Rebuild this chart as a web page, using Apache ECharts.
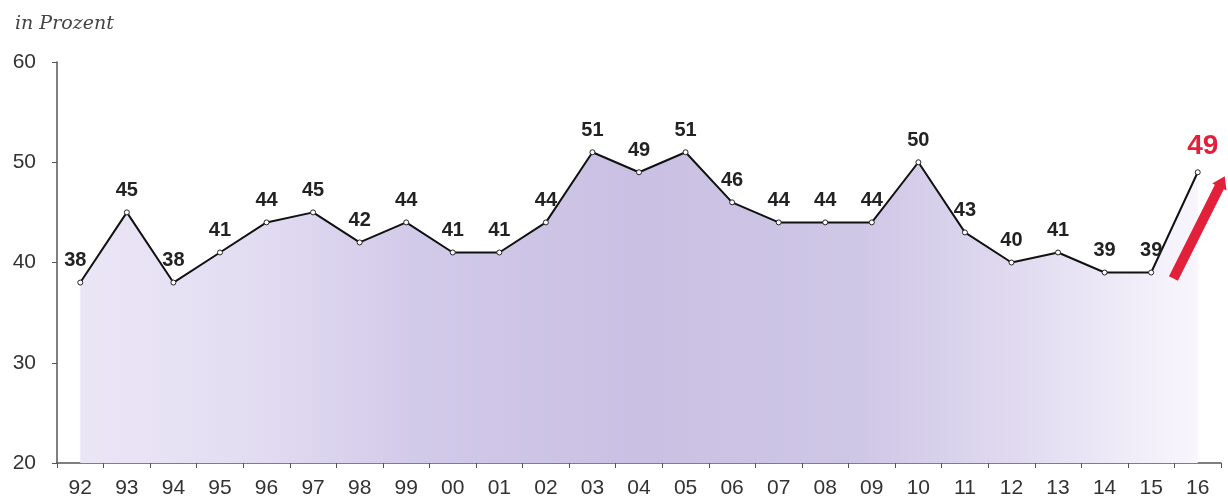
<!DOCTYPE html>
<html><head><meta charset="utf-8">
<script src="https://cdn.jsdelivr.net/npm/echarts@6/dist/echarts.min.js"></script>
<style>html,body{margin:0;padding:0;background:#fff}#c{width:1228px;height:504px}</style>
</head><body><div id="c"></div>
<script>
const years = ['92','93','94','95','96','97','98','99','00','01','02','03','04','05','06','07','08','09','10','11','12','13','14','15','16'];
const values = [38,45,38,41,44,45,42,44,41,41,44,51,49,51,46,44,44,44,50,43,40,41,39,39,49];
const yTicks = [20,30,40,50,60];

const chart = echarts.init(document.getElementById('c'));
const lastIdx = values.length - 1;
const seriesData = values.map((v, i) => {
  if (i === lastIdx) return {value: v, label: {color: '#e3203a', fontSize: 28, fontWeight: 'bold', distance: 9, offset: [5, 0]}};
  if (i === 0) return {value: v, label: {offset: [-5, 0]}};
  return v;
});

chart.setOption({
  animation: false,
  title: {
    text: 'in Prozent', left: 10, top: 10,
    textStyle: {fontFamily: 'DejaVu Serif', fontStyle: 'italic', fontWeight: 'normal', fontSize: 19, color: '#444'}
  },
  grid: {left: 57, right: 7, top: 62, bottom: 41},
  xAxis: {
    type: 'category', data: years, boundaryGap: true,
    axisLine: {lineStyle: {color: '#555', width: 1.5}},
    axisTick: {show: true, length: 5, inside: false, lineStyle: {color: '#555'}},
    axisLabel: {fontFamily: 'Liberation Sans', fontSize: 21, color: '#333', margin: 15}
  },
  yAxis: {
    type: 'value', min: yTicks[0], max: yTicks[yTicks.length - 1], interval: 10,
    axisLine: {show: true, lineStyle: {color: '#555', width: 1.5}},
    axisTick: {show: true, length: 5, lineStyle: {color: '#555'}},
    splitLine: {show: false},
    axisLabel: {fontFamily: 'Liberation Sans', fontSize: 21, color: '#333', margin: 21}
  },
  series: [{
    type: 'line', data: seriesData,
    symbol: 'circle', symbolSize: 5,
    itemStyle: {color: '#fff', borderColor: '#222', borderWidth: 1},
    lineStyle: {color: '#111', width: 2},
    label: {show: true, position: 'top', distance: 9, fontFamily: 'Liberation Sans', fontWeight: 'bold', fontSize: 20, color: '#222'},
    areaStyle: {
      origin: 'start', opacity: 1,
      color: new echarts.graphic.LinearGradient(0, 0, 1, 0, [
        {offset: 0, color: '#ebe6f6'},
        {offset: 0.15, color: '#e3ddf2'},
        {offset: 0.3, color: '#d2cae9'},
        {offset: 0.5, color: '#c9c0e3'},
        {offset: 0.7, color: '#cfc7e6'},
        {offset: 0.85, color: '#e2dcf1'},
        {offset: 0.95, color: '#f1eef9'},
        {offset: 1, color: '#f8f6fc'}
      ])
    }
  }]
});

// red arrow next to the last point, positioned via the chart's own scales
const p15 = chart.convertToPixel({xAxisIndex: 0, yAxisIndex: 0}, [lastIdx - 1, 38.4]);
const p16 = chart.convertToPixel({xAxisIndex: 0, yAxisIndex: 0}, [lastIdx, 48.6]);
const x0 = (p15[0] + p16[0]) / 2 - 1, y0 = p15[1];
const x1 = p16[0] + 27, y1 = p16[1];
const ang = Math.atan2(y1 - y0, x1 - x0);
const headLen = 12, headW = 8, shaftW = 5;
const bx = x1 - headLen * Math.cos(ang), by = y1 - headLen * Math.sin(ang);
const nx = -Math.sin(ang), ny = Math.cos(ang);
chart.setOption({
  graphic: [{
    type: 'polygon', z: 100,
    shape: {points: [
      [x0 + nx * shaftW, y0 + ny * shaftW],
      [bx + nx * shaftW, by + ny * shaftW],
      [bx + nx * headW, by + ny * headW],
      [x1, y1],
      [bx - nx * headW, by - ny * headW],
      [bx - nx * shaftW, by - ny * shaftW],
      [x0 - nx * shaftW, y0 - ny * shaftW]
    ]},
    style: {fill: '#e3203a'}
  }]
});
</script></body></html>
